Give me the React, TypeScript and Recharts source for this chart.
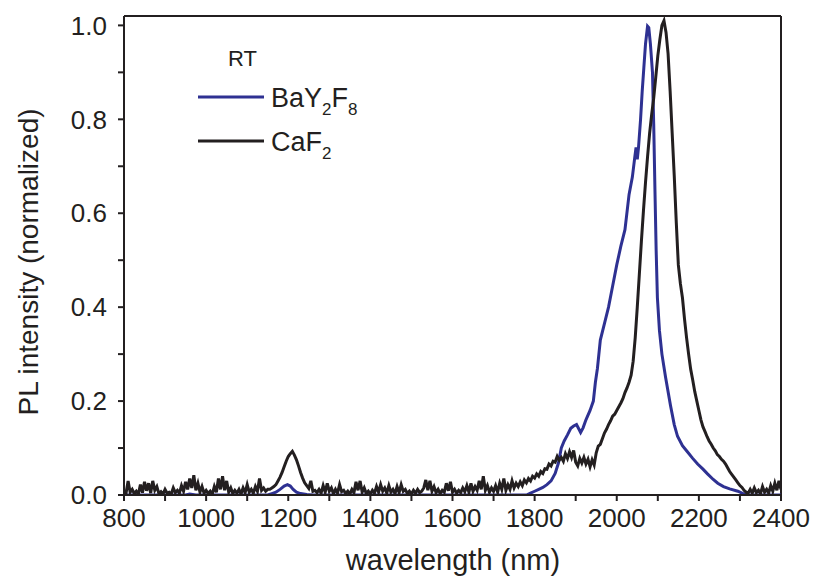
import React from 'react';
import { LineChart, Line, XAxis, YAxis, ReferenceLine } from 'recharts';

// wavelength (nm), normalized PL intensity
const caf2Points: [number, number][] = [
  [800, 0.010], [805, 0.004], [810, 0.030], [815, 0.006], [820, 0.012], [825, 0.003], [830, 0.008], [835, 0.002],
  [840, 0.022], [845, 0.005], [850, 0.028], [855, 0.009], [860, 0.025], [865, 0.004], [870, 0.030], [875, 0.010],
  [880, 0.018], [885, 0.003], [890, 0.007], [895, 0.002], [900, 0.012], [905, 0.004], [910, 0.006], [915, 0.002],
  [920, 0.015], [925, 0.005], [930, 0.010], [935, 0.004], [940, 0.020], [945, 0.008], [950, 0.028], [955, 0.012],
  [960, 0.035], [965, 0.015], [970, 0.042], [975, 0.010], [980, 0.025], [985, 0.006], [990, 0.018], [995, 0.004],
  [1000, 0.010], [1005, 0.003], [1010, 0.008], [1015, 0.002], [1020, 0.018], [1025, 0.006], [1030, 0.035], [1035, 0.012],
  [1040, 0.040], [1045, 0.010], [1050, 0.030], [1055, 0.006], [1060, 0.015], [1065, 0.003], [1070, 0.010], [1075, 0.004],
  [1080, 0.012], [1085, 0.002], [1090, 0.015], [1095, 0.005], [1100, 0.022], [1105, 0.006], [1110, 0.012], [1115, 0.004],
  [1120, 0.018], [1125, 0.008], [1130, 0.035], [1135, 0.010], [1140, 0.015], [1145, 0.008], [1150, 0.012],
  [1155, 0.012], [1160, 0.015], [1165, 0.018], [1170, 0.022], [1175, 0.030], [1180, 0.038], [1185, 0.048], [1190, 0.060],
  [1195, 0.072], [1200, 0.082], [1205, 0.088], [1210, 0.093], [1215, 0.085], [1220, 0.075], [1225, 0.062], [1230, 0.048],
  [1235, 0.036], [1240, 0.026], [1245, 0.020], [1250, 0.014], [1255, 0.030], [1260, 0.008], [1265, 0.010], [1270, 0.005],
  [1275, 0.012], [1280, 0.004], [1285, 0.020], [1290, 0.006], [1295, 0.025], [1300, 0.008], [1305, 0.015], [1310, 0.003],
  [1315, 0.012], [1320, 0.004], [1325, 0.022], [1330, 0.007], [1335, 0.010], [1340, 0.003], [1345, 0.008], [1350, 0.002],
  [1355, 0.012], [1360, 0.005], [1365, 0.028], [1370, 0.010], [1375, 0.030], [1380, 0.006], [1385, 0.015], [1390, 0.003],
  [1395, 0.008], [1400, 0.002], [1405, 0.010], [1410, 0.004], [1415, 0.018], [1420, 0.006], [1425, 0.022], [1430, 0.008],
  [1435, 0.015], [1440, 0.004], [1445, 0.020], [1450, 0.006], [1455, 0.012], [1460, 0.003], [1465, 0.018], [1470, 0.005],
  [1475, 0.022], [1480, 0.008], [1485, 0.012], [1490, 0.003], [1495, 0.008], [1500, 0.002], [1505, 0.010], [1510, 0.004],
  [1515, 0.012], [1520, 0.005], [1525, 0.008], [1530, 0.015], [1535, 0.032], [1540, 0.010], [1545, 0.030], [1550, 0.008],
  [1555, 0.018], [1560, 0.005], [1565, 0.012], [1570, 0.003], [1575, 0.010], [1580, 0.006], [1585, 0.025], [1590, 0.009],
  [1595, 0.028], [1600, 0.006], [1605, 0.012], [1610, 0.004], [1615, 0.010], [1620, 0.005], [1625, 0.015], [1630, 0.007],
  [1635, 0.020], [1640, 0.006], [1645, 0.025], [1650, 0.008], [1655, 0.018], [1660, 0.010], [1665, 0.030], [1670, 0.012],
  [1675, 0.040], [1680, 0.010], [1685, 0.020], [1690, 0.006], [1695, 0.015], [1700, 0.008], [1705, 0.020], [1710, 0.006],
  [1715, 0.025], [1720, 0.012], [1725, 0.035], [1730, 0.010], [1735, 0.022], [1740, 0.012], [1745, 0.030], [1750, 0.015],
  [1755, 0.025], [1760, 0.018],
  [1765, 0.028], [1770, 0.020], [1775, 0.032], [1780, 0.026], [1785, 0.035], [1790, 0.030], [1795, 0.040], [1800, 0.036],
  [1805, 0.045], [1810, 0.040], [1815, 0.050], [1820, 0.046], [1825, 0.056], [1830, 0.055], [1835, 0.066], [1840, 0.062],
  [1845, 0.072], [1850, 0.070], [1855, 0.082], [1860, 0.074], [1865, 0.080], [1870, 0.072], [1875, 0.088], [1880, 0.078],
  [1885, 0.092], [1890, 0.080], [1895, 0.095], [1900, 0.070], [1905, 0.062], [1910, 0.078], [1915, 0.068], [1920, 0.080],
  [1925, 0.066], [1930, 0.076], [1935, 0.060], [1940, 0.075], [1945, 0.064], [1950, 0.090], [1955, 0.104], [1960, 0.108],
  [1965, 0.120], [1970, 0.132], [1975, 0.140], [1980, 0.150], [1985, 0.158], [1990, 0.168], [1995, 0.172], [2000, 0.180],
  [2005, 0.188], [2010, 0.196], [2015, 0.205], [2020, 0.218], [2025, 0.228], [2030, 0.240], [2035, 0.255], [2040, 0.285],
  [2045, 0.335], [2050, 0.400], [2055, 0.470], [2060, 0.540], [2065, 0.605], [2070, 0.665], [2075, 0.720], [2080, 0.770],
  [2085, 0.810], [2090, 0.845], [2095, 0.890], [2100, 0.935], [2105, 0.970], [2110, 1.000], [2115, 1.010], [2120, 0.985],
  [2125, 0.940], [2130, 0.860], [2135, 0.770], [2140, 0.680], [2145, 0.580], [2150, 0.490], [2155, 0.450], [2160, 0.420],
  [2165, 0.375], [2170, 0.335], [2175, 0.300], [2180, 0.268], [2185, 0.245], [2190, 0.220], [2195, 0.200], [2200, 0.180],
  [2205, 0.160], [2210, 0.145], [2215, 0.135], [2220, 0.124], [2225, 0.115], [2230, 0.108], [2235, 0.100], [2240, 0.094],
  [2245, 0.086], [2250, 0.082], [2255, 0.076], [2260, 0.072], [2265, 0.066], [2270, 0.058], [2275, 0.050], [2280, 0.044],
  [2285, 0.038], [2290, 0.032], [2295, 0.026], [2300, 0.020], [2305, 0.016], [2310, 0.010], [2315, 0.006], [2320, 0.004],
  [2325, 0.012], [2330, 0.004], [2335, 0.015], [2340, 0.005], [2345, 0.010], [2350, 0.003], [2355, 0.018], [2360, 0.006],
  [2365, 0.012], [2370, 0.004], [2375, 0.020], [2380, 0.008], [2385, 0.025], [2390, 0.010], [2395, 0.030], [2400, 0.012],
];

const bay2f8Points: [number, number][] = [
  [800, 0], [950, 0], [960, 0.002], [975, 0], [1150, 0], [1160, 0.003], [1170, 0.006], [1180, 0.012], [1190, 0.019],
  [1198, 0.022], [1205, 0.019], [1212, 0.012], [1220, 0.006], [1230, 0.003], [1245, 0.001], [1260, 0], [1780, 0],
  [1790, 0.004], [1800, 0.008], [1810, 0.012], [1820, 0.016], [1830, 0.022], [1840, 0.030], [1850, 0.046], [1858, 0.068],
  [1865, 0.100], [1872, 0.115], [1880, 0.128], [1888, 0.142], [1895, 0.147], [1902, 0.150], [1908, 0.140], [1912, 0.133],
  [1918, 0.143], [1925, 0.160], [1935, 0.180], [1943, 0.200], [1948, 0.240], [1953, 0.270], [1960, 0.330], [1970, 0.365],
  [1980, 0.400], [1990, 0.445], [2000, 0.490], [2010, 0.530], [2020, 0.565], [2030, 0.640], [2038, 0.677], [2044, 0.720],
  [2047, 0.740], [2050, 0.715], [2053, 0.740], [2058, 0.800], [2062, 0.860], [2066, 0.910], [2070, 0.960], [2075, 0.998],
  [2078, 0.995], [2082, 0.960], [2087, 0.900], [2090, 0.790], [2093, 0.650], [2096, 0.520], [2099, 0.420], [2104, 0.350],
  [2110, 0.300], [2119, 0.250], [2131, 0.190], [2140, 0.150], [2148, 0.125], [2160, 0.105], [2172, 0.092], [2185, 0.078],
  [2197, 0.066], [2210, 0.055], [2221, 0.045], [2235, 0.033], [2246, 0.025], [2260, 0.018], [2275, 0.013], [2295, 0.008],
  [2310, 0.002], [2320, 0], [2400, 0],
];

const xTicks = [800, 900, 1000, 1100, 1200, 1300, 1400, 1500, 1600, 1700, 1800, 1900, 2000, 2100, 2200, 2300, 2400];
const yTicks = [0, 0.1, 0.2, 0.3, 0.4, 0.5, 0.6, 0.7, 0.8, 0.9, 1.0];
const xLabeled = [800, 1000, 1200, 1400, 1600, 1800, 2000, 2200, 2400];
const yLabeled = [0, 0.2, 0.4, 0.6, 0.8, 1.0];

const caf2Data = caf2Points.map(([x, y]) => ({ x, y }));
const bayData = bay2f8Points.map(([x, y]) => ({ x, y }));

const FONT = '"Liberation Sans", Arial, Helvetica, sans-serif';
const INK = '#231f20';
const BLUE = '#2e3192';

export default function App() {
  return (
    <div style={{ position: 'absolute', left: 0, top: 0, width: 814, height: 579, background: '#fff', fontFamily: FONT }}>
      <LineChart width={814} height={579} data={caf2Data} margin={{ top: 16, right: 33, bottom: 0, left: 0 }}>
        <XAxis
          dataKey="x"
          type="number"
          domain={[800, 2400]}
          ticks={xTicks}
          tickFormatter={(v: number) => (xLabeled.includes(v) ? String(v) : '')}
          height={84}
          tickSize={6}
          tickMargin={8}
          stroke={INK}
          strokeWidth={2}
          tick={{ fill: INK, fontSize: 26, fontFamily: FONT }}
          allowDataOverflow
        />
        <YAxis
          type="number"
          domain={[0, 1.02]}
          ticks={yTicks}
          tickFormatter={(v: number) => (yLabeled.some((t) => Math.abs(t - v) < 1e-9) ? v.toFixed(1) : '')}
          width={124}
          tickSize={6}
          tickMargin={11}
          stroke={INK}
          strokeWidth={2}
          tick={{ fill: INK, fontSize: 26, fontFamily: FONT }}
          allowDataOverflow
        />
        <ReferenceLine y={1.02} stroke={INK} strokeWidth={2} />
        <ReferenceLine x={2400} stroke={INK} strokeWidth={2} />
        <Line data={bayData} dataKey="y" stroke={BLUE} strokeWidth={3} dot={false} isAnimationActive={false} />
        <Line data={caf2Data} dataKey="y" stroke={INK} strokeWidth={3} dot={false} isAnimationActive={false} />
      </LineChart>
      <svg width={814} height={579} style={{ position: 'absolute', left: 0, top: 0, pointerEvents: 'none' }}>
        <text x={453} y={570} textAnchor="middle" fontSize={29} fill={INK} fontFamily={FONT}>wavelength (nm)</text>
        <text transform="translate(38,262) rotate(-90)" textAnchor="middle" fontSize={28} fill={INK} fontFamily={FONT}>
          PL intensity (normalized)
        </text>
        <text x={228} y={66} fontSize={22} fill={INK} fontFamily={FONT}>RT</text>
        <line x1={198} x2={264} y1={97} y2={97} stroke={BLUE} strokeWidth={3} />
        <text x={271} y={107} fontSize={27} fill={INK} fontFamily={FONT}>
          BaY<tspan fontSize={17} dy={8}>2</tspan><tspan dy={-8}>F</tspan><tspan fontSize={17} dy={8}>8</tspan>
        </text>
        <line x1={198} x2={264} y1={141} y2={141} stroke={INK} strokeWidth={3} />
        <text x={271} y={151} fontSize={27} fill={INK} fontFamily={FONT}>
          CaF<tspan fontSize={17} dy={8}>2</tspan>
        </text>
      </svg>
    </div>
  );
}
